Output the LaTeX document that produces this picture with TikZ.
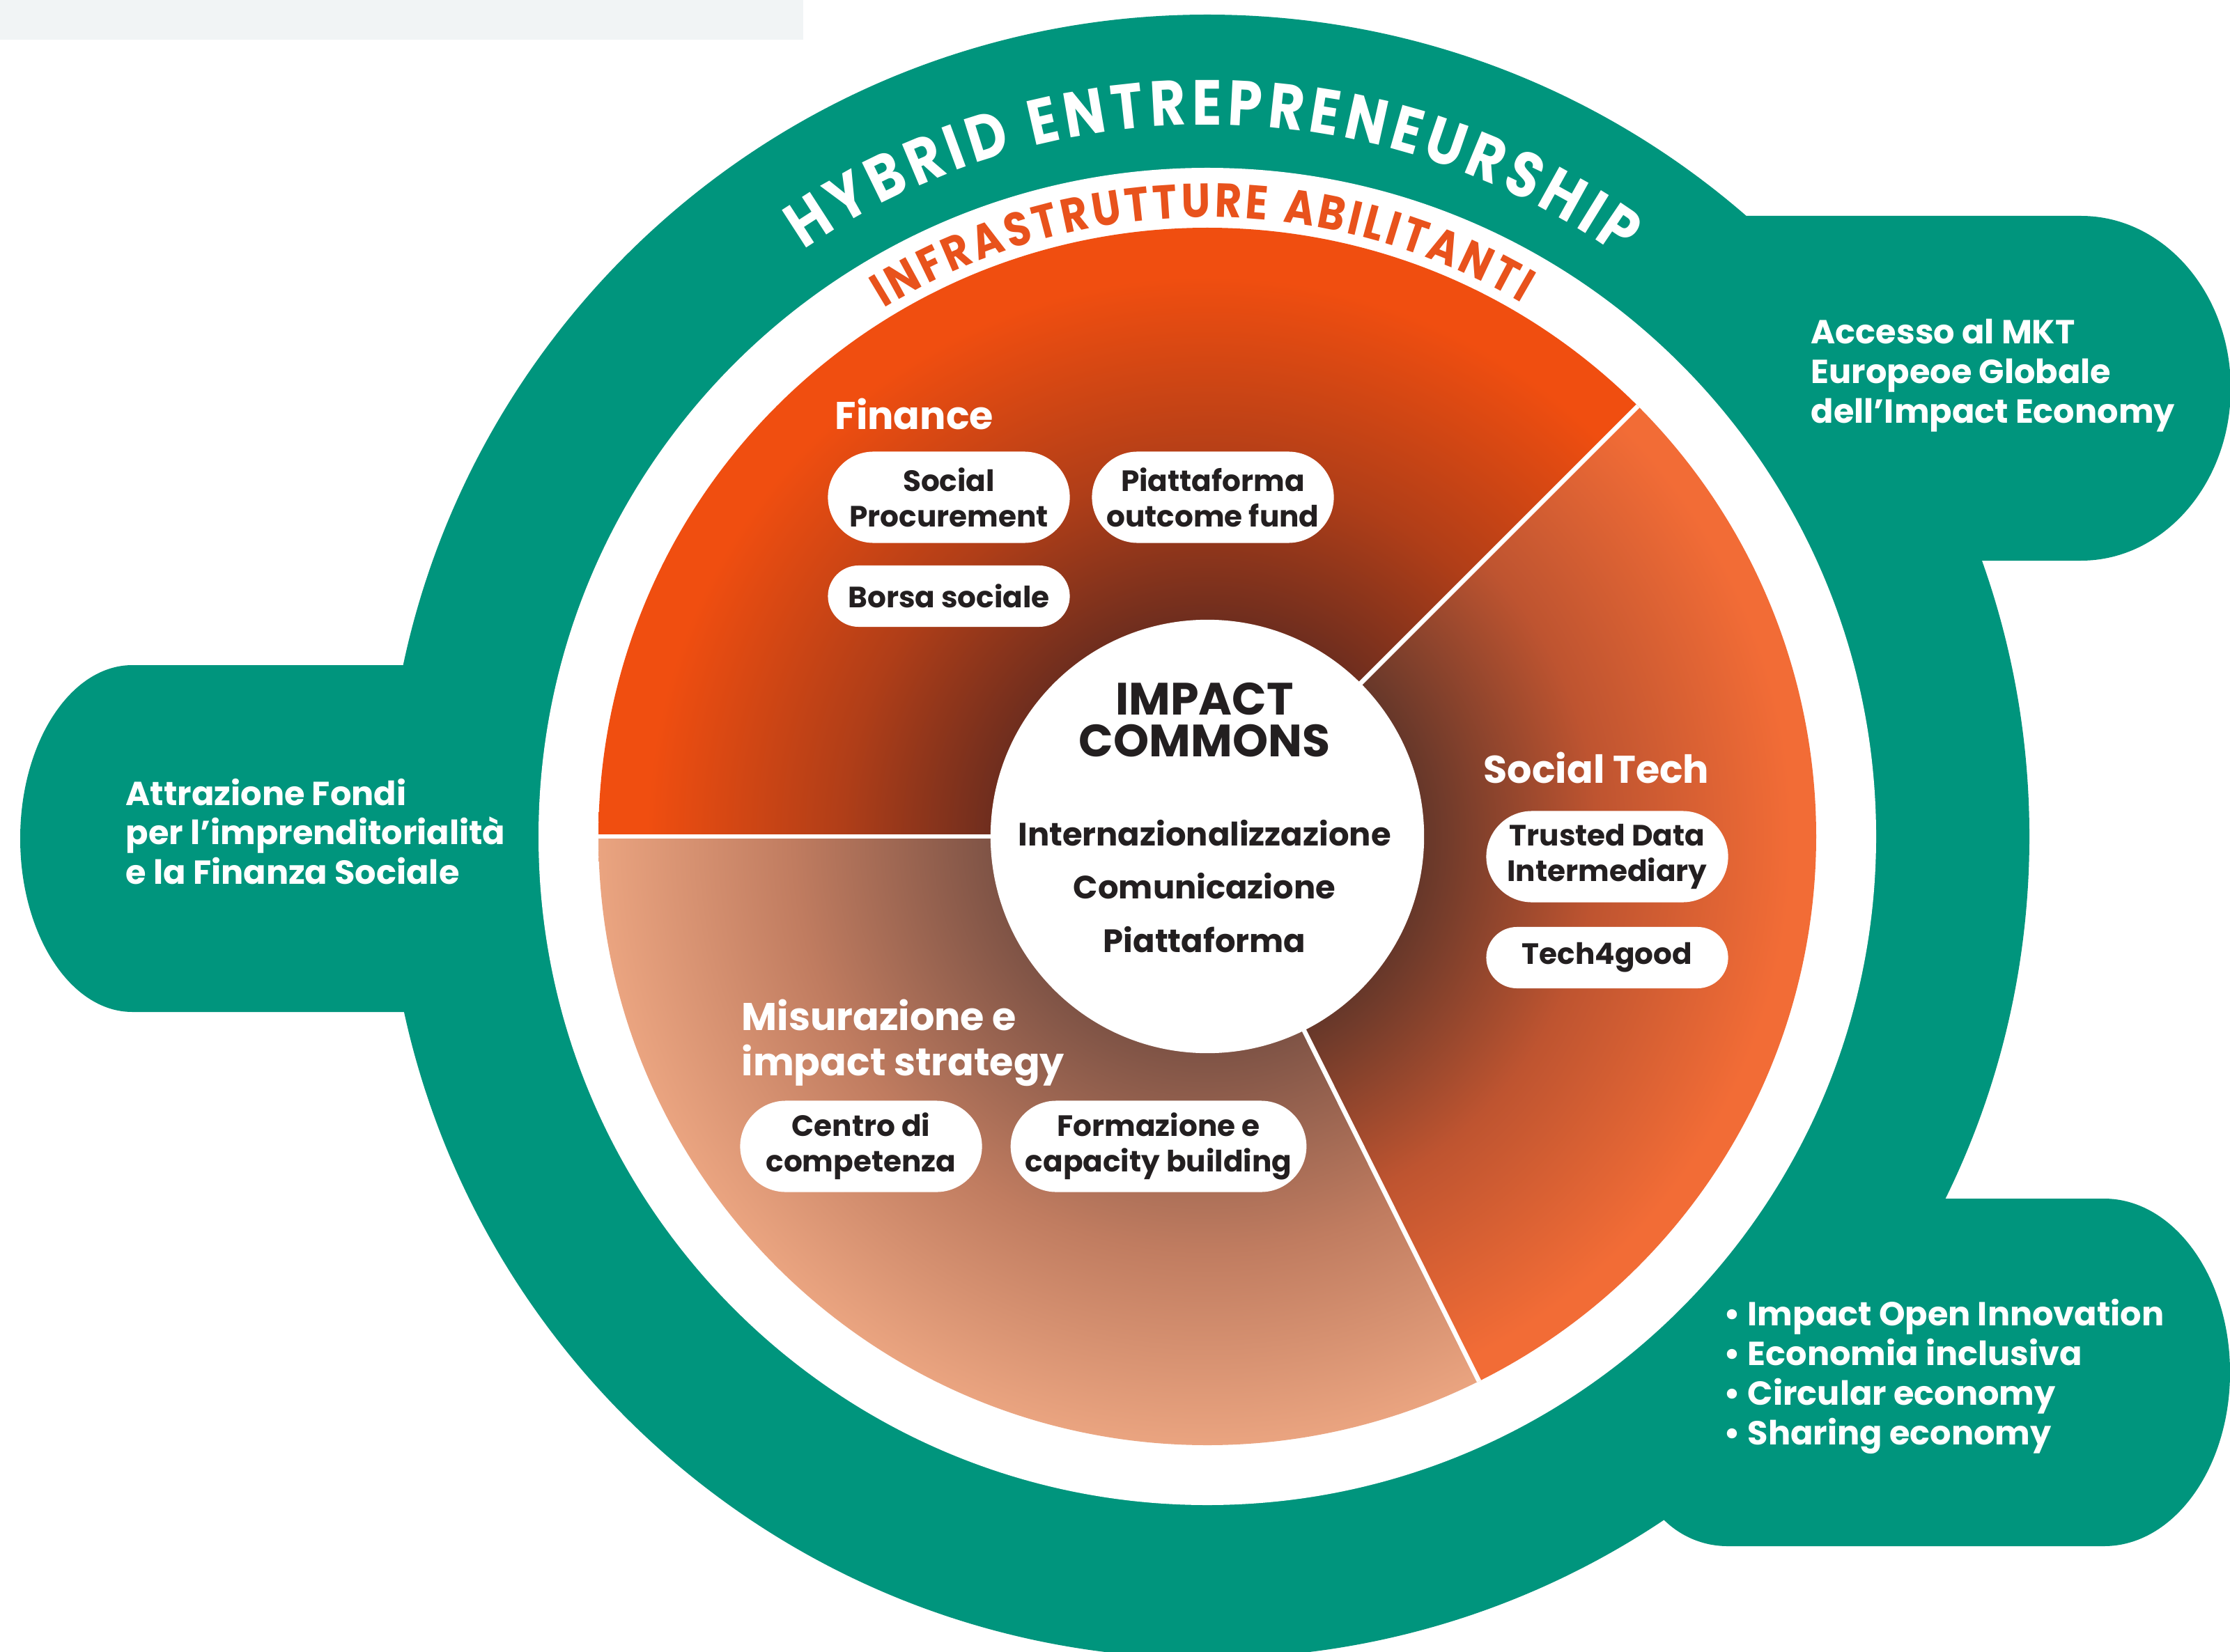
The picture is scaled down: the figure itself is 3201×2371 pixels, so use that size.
\documentclass[tikz,border=0pt]{standalone}
\usepackage{fontspec}
\setmainfont{Poppins}
\newfontfamily\arcfont{Poppins}[FakeStretch=0.86]
\usetikzlibrary{shapes.misc,decorations.text}

% colours picked from the diagram
\definecolor{hybridgreen}{RGB}{0,149,125}
\definecolor{infraorange}{RGB}{232,82,28}
\definecolor{greybar}{RGB}{241,244,245}
\definecolor{inktext}{RGB}{35,31,32}
\definecolor{findark}{RGB}{112,46,30}
\definecolor{finmid}{RGB}{176,62,24}
\definecolor{finlight}{RGB}{240,78,16}
\definecolor{techdark}{RGB}{104,56,42}
\definecolor{techmid}{RGB}{190,84,48}
\definecolor{techlight}{RGB}{242,108,54}
\definecolor{misdark}{RGB}{128,84,70}
\definecolor{mismid}{RGB}{192,124,96}
\definecolor{mislight}{RGB}{234,164,128}

% radial fades of the three sectors, dark at the centre
\pgfdeclareradialshading{financeshade}{\pgfpoint{0bp}{0bp}}{%
  color(0bp)=(findark); color(9bp)=(findark); color(15bp)=(finmid);
  color(23bp)=(finlight); color(50bp)=(finlight)}
\pgfdeclareradialshading{techshade}{\pgfpoint{0bp}{0bp}}{%
  color(0bp)=(techdark); color(9bp)=(techdark); color(16bp)=(techmid);
  color(24bp)=(techlight); color(50bp)=(techlight)}
\pgfdeclareradialshading{misurashade}{\pgfpoint{0bp}{0bp}}{%
  color(0bp)=(misdark); color(9bp)=(misdark); color(17bp)=(mismid);
  color(25bp)=(mislight); color(50bp)=(mislight)}

\tikzset{
  pill/.style={rounded rectangle, fill=white, text=inktext, align=center,
    font=\bfseries\fontsize{12}{14.5}\selectfont,
    minimum width=3.47cm, minimum height=1.31cm, inner sep=0pt},
  sectorlabel/.style={text=white, anchor=west, align=left, inner sep=0pt,
    font=\bfseries\fontsize{15.8}{18.5}\selectfont},
  tabtext/.style={text=white, anchor=west, align=left, inner sep=0pt,
    font=\bfseries\fontsize{13.6}{16.2}\selectfont},
  commonstext/.style={text=inktext, align=center, inner sep=0pt,
    font=\bfseries\fontsize{13.2}{16}\selectfont},
  divider/.style={white, line width=1.9pt}
}

\begin{document}
\begin{tikzpicture}[x=0.01cm, y=0.01cm]

    % Page frame, one unit is one pixel of the reference
    \useasboundingbox (0,0) rectangle (3201,2371);
    \clip (0,0) rectangle (3201,2371);
    \fill[white] (0,0) rectangle (3201,2371);
    \fill[greybar] (0,2314) rectangle (1153,2371);

    % Centre of all the rings
    \coordinate (C) at (1733,1170);

    % Green outer ring with its three side tabs
    \fill[hybridgreen] (C) circle (1180);
    \fill[hybridgreen] (700,1416) -- (190,1416)
        arc[start angle=90, end angle=270, x radius=161, y radius=249]
        -- (700,918) -- cycle;
    \fill[hybridgreen] (2400,2061) -- (2987,2061)
        arc[start angle=90, end angle=-90, x radius=215, y radius=247.5]
        -- (2400,1566) -- cycle;
    \fill[hybridgreen] (2350,650) -- (3020,650)
        arc[start angle=90, end angle=-90, x radius=181, y radius=249.5]
        -- (2480,151) arc[start angle=270, end angle=180, radius=130]
        -- cycle;

    % White ring between the green band and the pie
    \fill[white] (C) circle (960);

    % Finance sector, 45 to 180 degrees
    \begin{scope}
        \clip (C) -- ++(45:874) arc[start angle=45, end angle=180, radius=874] -- cycle;
        \shade[shading=financeshade] (C) circle (874);
    \end{scope}

    % Misurazione sector, 180 to 296.5 degrees
    \begin{scope}
        \clip (C) -- ++(180:874) arc[start angle=180, end angle=296.5, radius=874] -- cycle;
        \shade[shading=misurashade] (C) circle (874);
    \end{scope}

    % Social Tech sector, -63.5 to 45 degrees
    \begin{scope}
        \clip (C) -- ++(-63.5:874) arc[start angle=-63.5, end angle=45, radius=874] -- cycle;
        \shade[shading=techshade] (C) circle (874);
    \end{scope}

    % White lines between the sectors
    \draw[divider] (C) -- ++(45:874);
    \draw[divider] (C) -- ++(180:874);
    \draw[divider] (C) -- ++(-63.5:874);

    % White disc in the middle
    \node[circle, fill=white, minimum size=6.22cm, inner sep=0pt] (commons) at (C) {};

    % Curved titles on the rings
    \path (C) ++(124.5:1022) coordinate (hybridstart);
    \path (C) ++(121.5:889) coordinate (infrastart);
    \path[decorate, decoration={text along path, text align={fit to path},
        text color=white,
        text={|\arcfont\bfseries\fontsize{26}{26}\selectfont|HYBRID ENTREPRENEURSHIP}}]
        (hybridstart) arc[start angle=124.5, end angle=54.5, radius=1022];
    \path[decorate, decoration={text along path, text align={fit to path},
        text color=infraorange,
        text={|\arcfont\bfseries\fontsize{19.5}{19.5}\selectfont|INFRASTRUTTURE ABILITANTI}}]
        (infrastart) arc[start angle=121.5, end angle=59.5, radius=889];

    % Impact commons in the centre
    \node[commonstext, font=\bfseries\fontsize{18.5}{17}\selectfont] (impact) at (1729,1337) {IMPACT\\COMMONS};
    \node[commonstext] (intern) at (1729,1175) {Internazionalizzazione};
    \node[commonstext] (comun) at (1729,1099) {Comunicazione};
    \node[commonstext] (piatt) at (1729,1022) {Piattaforma};

    % Finance
    \node[sectorlabel] (finance) at (1198,1777) {Finance};
    \node[pill] (procure) at (1362,1657) {Social\\Procurement};
    \node[pill] (outcome) at (1741,1657) {Piattaforma\\outcome fund};
    \node[pill, minimum height=0.88cm] (borsa) at (1362,1515) {Borsa sociale};

    % Social Tech
    \node[sectorlabel] (socialtech) at (2129,1269) {Social Tech};
    \node[pill] (trusted) at (2307,1141) {Trusted Data\\Intermediary};
    \node[pill, minimum height=0.88cm] (tech4) at (2307,996) {Tech4good};

    % Misurazione e impact strategy
    \node[sectorlabel] (misura) at (1064,874) {Misurazione e\\impact strategy};
    \node[pill] (centro) at (1236,725) {Centro di\\competenza};
    \node[pill, minimum width=4.22cm] (formaz) at (1663,725) {Formazione e\\capacity building};

    % Texts on the green tabs
    \node[tabtext] (fondi) at (180,1177) {Attrazione Fondi\\per l’imprenditorialità\\e la Finanza Sociale};
    \node[tabtext] (mercato) at (2599,1832) {Accesso al MKT\\Europeoe Globale\\dell’Impact Economy};
    \node[tabtext] (economie) at (2474,395) {• Impact Open Innovation\\• Economia inclusiva\\• Circular economy\\• Sharing economy};

\end{tikzpicture}
\end{document}
